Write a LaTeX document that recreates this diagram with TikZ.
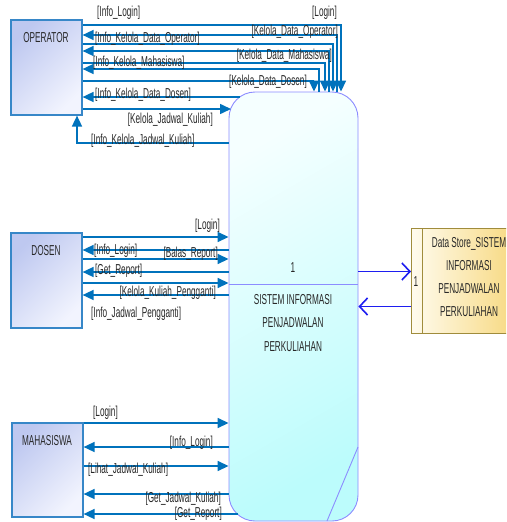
\documentclass[tikz,border=0pt]{standalone}
\usepackage{fontspec}
\setmainfont{Liberation Sans}[FakeStretch=0.57]
\usetikzlibrary{arrows.meta}

\definecolor{flowB}{RGB}{0,114,188}
\definecolor{entEdge}{RGB}{55,135,200}
\definecolor{entDark}{RGB}{190,200,240}
\definecolor{entLight}{RGB}{242,244,254}
\definecolor{procEdge}{RGB}{140,140,255}
\definecolor{procLight}{RGB}{245,255,255}
\definecolor{procDark}{RGB}{188,252,252}
\definecolor{storeEdge}{RGB}{160,140,60}
\definecolor{storeLight}{RGB}{255,251,238}
\definecolor{storeDark}{RGB}{245,208,100}
\definecolor{storeFlow}{RGB}{30,30,240}
\definecolor{ink}{RGB}{40,40,40}

\tikzset{
  ent/.style={draw=entEdge, line width=1.2pt, top color=entDark, bottom color=entLight,
    shading angle=45, minimum width=71pt, minimum height=95pt, inner sep=0pt},
  proc/.style={draw=procEdge, line width=0.9pt, rounded corners=26pt,
    top color=procLight, bottom color=procDark, shading angle=30,
    minimum width=129pt, minimum height=429pt, inner sep=0pt},
  store/.style={draw=storeEdge, line width=0.9pt, left color=storeLight, right color=storeDark,
    minimum width=130pt, minimum height=105pt, inner sep=0pt},
  fline/.style={draw=flowB, line width=1.6pt, -{Triangle[length=11pt,width=10pt]}},
  sline/.style={draw=storeFlow, line width=1.6pt, -{Straight Barb[length=8pt,width=17pt,line width=1.6pt]}},
  txt/.style={inner sep=0pt, text=ink},
  lbl/.style={inner sep=0pt, text=ink},
}

\begin{document}
\begin{tikzpicture}[x=1pt, y=-1pt, font=\fontsize{14.4}{17}\selectfont]
\useasboundingbox (0,0) rectangle (506,522);
\clip (0,0) rectangle (506,522);
\fill[white] (0,0) rectangle (506,522);

% external entities
\node[ent] (op) at (46.5,67.5) {};
\node[ent] (ds) at (46.5,280.5) {};
\node[ent, minimum height=94pt] (mh) at (47.5,470) {};
\node[txt] (opT) at (46,37.5) {OPERATOR};
\node[txt] (dsT) at (46,251) {DOSEN};
\node[txt] (mhT) at (47,440.5) {MAHASISWA};

% process
\node[proc] (pr) at (293.5,306.5) {};
\draw[procEdge, line width=0.9pt] (pr.west |- 0,284) -- (pr.east |- 0,284);
\draw[procEdge, line width=0.9pt] (358,447) -- (327,521);
\node[txt] (prN) at (293,268) {1};
\node[txt, align=center, font=\fontsize{14.4}{23.5}\selectfont] (prT) at (293,323)
  {SISTEM INFORMASI\\PENJADWALAN\\PERKULIAHAN};

% data store
\node[store, anchor=north west] (st) at (411,228) {};
\draw[storeEdge, line width=0.9pt] (422,228) -- (422,333);
\node[txt] (stN) at (416,282) {1};
\node[txt, align=center, font=\fontsize{14.4}{23}\selectfont] (stT) at (469,277.5)
  {Data Store\_SISTEM\\INFORMASI\\PENJADWALAN\\PERKULIAHAN};

\draw[sline] (pr.east |- 0,271.5) -- (st.west |- 0,271.5);
\draw[sline] (st.west |- 0,306.5) -- (pr.east |- 0,306.5);

% OPERATOR flows
\draw[fline] (op.east |- 0,25) -| (pr.north -| 341,0);
\draw[fline] (pr.north -| 337,0) |- (op.east |- 0,35);
\draw[fline] (op.east |- 0,44) -| (pr.north -| 333,0);
\draw[fline] (pr.north -| 329,0) |- (op.east |- 0,51);
\draw[fline] (op.east |- 0,63) -| (pr.north -| 325,0);
\draw[fline] (pr.north -| 319,0) |- (op.east |- 0,69);
\draw[fline] (op.east |- 0,81) -| (pr.north -| 314,0);
\coordinate (prC) at (240,97);
\draw[fline] (prC) -- (op.east |- prC);
\coordinate (prK) at (231,109);
\draw[fline] (op.east |- prK) -- (prK);
\draw[fline] (pr.west |- 0,143) -| (op.south -| 77,0);

% DOSEN flows
\draw[fline] (ds.east |- 0,237) -- (pr.west |- 0,237);
\draw[fline] (pr.west |- 0,250) -- (ds.east |- 0,250);
\draw[fline] (ds.east |- 0,259) -- (pr.west |- 0,259);
\draw[fline] (pr.west |- 0,272) -- (ds.east |- 0,272);
\draw[fline] (ds.east |- 0,283) -- (pr.west |- 0,283);
\draw[fline] (pr.west |- 0,295) -- (ds.east |- 0,295);

% MAHASISWA flows
\draw[fline] (mh.east |- 0,423) -- (pr.west |- 0,423);
\draw[fline] (pr.west |- 0,447) -- (mh.east |- 0,447);
\draw[fline] (mh.east |- 0,466) -- (pr.west |- 0,466);
\draw[fline] (pr.west |- 0,494) -- (mh.east |- 0,494);
\coordinate (prB) at (238,514);
\draw[fline] (prB) -- (mh.east |- prB);

% OPERATOR labels
\node[lbl, anchor=west] (l1) at (97,12.5) {[Info\_Login]};
\node[lbl, anchor=east] (l2) at (337,12.5) {[Login]};
\node[lbl, anchor=east] (l3) at (338,32) {[Kelola\_Data\_Operator]};
\node[lbl, anchor=west] (l4) at (95,39) {[Info\_Kelola\_Data\_Operator]};
\node[lbl, anchor=east] (l5) at (332,56) {[Kelola\_Data\_Mahasiswa]};
\node[lbl, anchor=west] (l6) at (93,63) {[Info\_Kelola\_Mahasiswa]};
\node[lbl, anchor=east] (l7) at (307,82) {[Kelola\_Data\_Dosen]};
\node[lbl, anchor=west] (l8) at (95,95) {[Info\_Kelola\_Data\_Dosen]};
\node[lbl, anchor=east] (l9) at (213,120) {[Kelola\_Jadwal\_Kuliah]};
\node[lbl, anchor=west] (l10) at (91,141) {[Info\_Kelola\_Jadwal\_Kuliah]};

% DOSEN labels
\node[lbl, anchor=east] (d1) at (220,226) {[Login]};
\node[lbl, anchor=west] (d2) at (94,251) {[Info\_Login]};
\node[lbl, anchor=east] (d3) at (218,254) {[Balas\_Report]};
\node[lbl, anchor=west] (d4) at (95,271) {[Get\_Report]};
\node[lbl, anchor=east] (d5) at (216,293) {[Kelola\_Kuliah\_Pengganti]};
\node[lbl, anchor=west] (d6) at (91,314) {[Info\_Jadwal\_Pengganti]};

% MAHASISWA labels
\node[lbl, anchor=west] (m1) at (93,413) {[Login]};
\node[lbl, anchor=east] (m2) at (213,443) {[Info\_Login]};
\node[lbl, anchor=west] (m3) at (88,470) {[Lihat\_Jadwal\_Kuliah]};
\node[lbl, anchor=east] (m4) at (221,499) {[Get\_Jadwal\_Kuliah]};
\node[lbl, anchor=east] (m5) at (222,514) {[Get\_Report]};
\end{tikzpicture}
\end{document}
